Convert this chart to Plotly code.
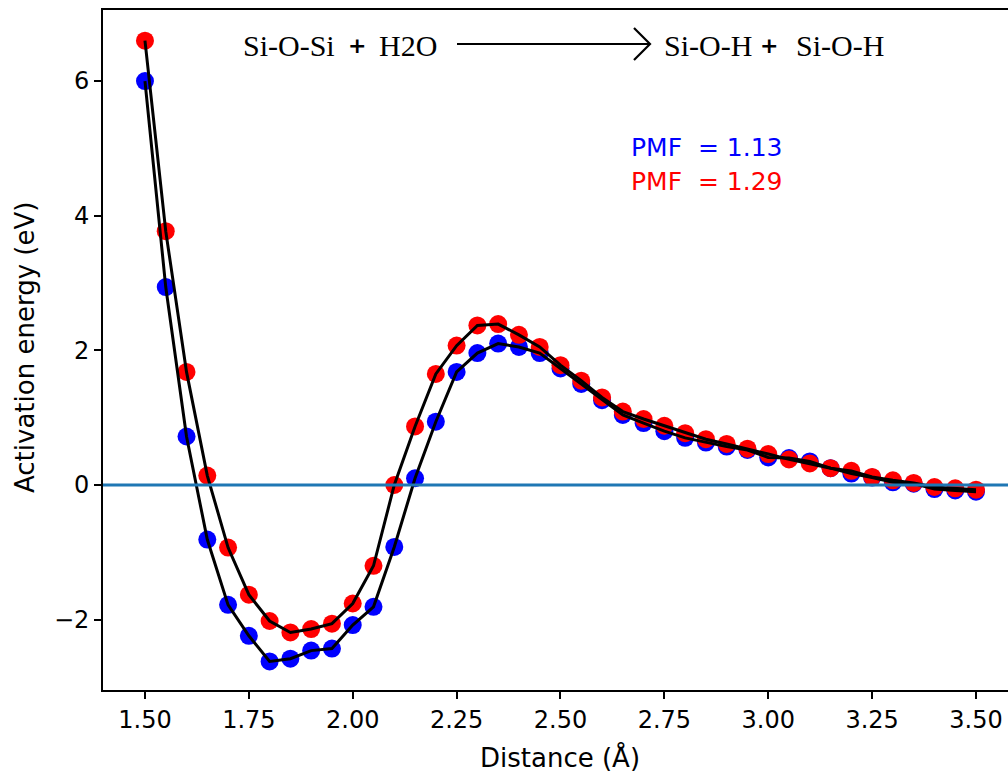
import plotly.graph_objects as go

distance = [1.50, 1.55, 1.60, 1.65, 1.70, 1.75, 1.80, 1.85, 1.90, 1.95,
            2.00, 2.05, 2.10, 2.15, 2.20, 2.25, 2.30, 2.35, 2.40, 2.45,
            2.50, 2.55, 2.60, 2.65, 2.70, 2.75, 2.80, 2.85, 2.90, 2.95,
            3.00, 3.05, 3.10, 3.15, 3.20, 3.25, 3.30, 3.35, 3.40, 3.45, 3.50]

energy_blue = [6.00, 2.94, 0.72, -0.81, -1.78, -2.24, -2.62, -2.58, -2.46, -2.43,
               -2.08, -1.81, -0.92, 0.10, 0.94, 1.68, 1.96, 2.10, 2.05, 1.96,
               1.73, 1.50, 1.26, 1.04, 0.92, 0.80, 0.70, 0.63, 0.57, 0.52,
               0.41, 0.40, 0.35, 0.25, 0.17, 0.11, 0.04, 0.02, -0.06, -0.08, -0.10]

energy_red = [6.60, 3.77, 1.68, 0.14, -0.93, -1.63, -2.02, -2.19, -2.14, -2.06,
              -1.76, -1.20, 0.00, 0.87, 1.65, 2.07, 2.37, 2.39, 2.23, 2.05,
              1.78, 1.55, 1.30, 1.09, 0.98, 0.88, 0.77, 0.68, 0.61, 0.54,
              0.46, 0.38, 0.32, 0.25, 0.21, 0.12, 0.07, 0.03, -0.03, -0.05, -0.07]

x_ticks = [1.50, 1.75, 2.00, 2.25, 2.50, 2.75, 3.00, 3.25, 3.50]
y_ticks = [-2, 0, 2, 4, 6]
y_tick_text = ["\u22122", "0", "2", "4", "6"]

pmf_blue_text = "PMF\u00a0\u00a0= 1.13"
pmf_red_text = "PMF\u00a0\u00a0= 1.29"

W, H = 1008, 773
L, R, T, B = 103, 0, 10, 83
PW, PH = W - L - R, H - T - B


def px(xp):
    return (xp - L) / PW


def py(yp):
    return (H - B - yp) / PH


fig = go.Figure()

fig.add_trace(go.Scatter(x=distance, y=energy_blue, mode="markers",
                         marker=dict(color="blue", size=18, line=dict(width=0)),
                         showlegend=False, cliponaxis=False))
fig.add_trace(go.Scatter(x=distance, y=energy_red, mode="markers",
                         marker=dict(color="red", size=18, line=dict(width=0)),
                         showlegend=False, cliponaxis=False))
fig.add_trace(go.Scatter(x=distance, y=energy_blue, mode="lines",
                         line=dict(color="black", width=3),
                         showlegend=False))
fig.add_trace(go.Scatter(x=distance, y=energy_red, mode="lines",
                         line=dict(color="black", width=3),
                         showlegend=False))

fig.add_hline(y=0, line=dict(color="#1f77b4", width=3))

axis_font = dict(family="DejaVu Sans", size=24, color="black")

fig.update_xaxes(range=[1.399, 3.577], tickvals=x_ticks,
                 ticktext=[f"{v:.2f}" for v in x_ticks],
                 showgrid=False, zeroline=False,
                 showline=True, linecolor="black", linewidth=1.6, mirror=True,
                 ticks="outside", ticklen=7, tickwidth=1.6, tickcolor="black",
                 tickfont=axis_font)
fig.update_yaxes(range=[-3.045, 7.055], tickvals=y_ticks, ticktext=y_tick_text,
                 showgrid=False, zeroline=False,
                 showline=True, linecolor="black", linewidth=1.6,
                 ticks="outside", ticklen=7, tickwidth=1.6, tickcolor="black",
                 tickfont=axis_font)

serif = "Liberation Serif"
title_y = py(45)
annotations = [
    dict(text="Si-O-Si", x=px(289), y=title_y, font=dict(family=serif, size=30)),
    dict(text="<b>+</b>", x=px(357), y=title_y, font=dict(family="DejaVu Sans", size=22)),
    dict(text="H2O", x=px(408), y=title_y, font=dict(family=serif, size=30)),
    dict(text="Si-O-H", x=px(708), y=title_y, font=dict(family=serif, size=30)),
    dict(text="<b>+</b>", x=px(769), y=title_y, font=dict(family="DejaVu Sans", size=22)),
    dict(text="Si-O-H", x=px(840), y=title_y, font=dict(family=serif, size=30)),
]
for a in annotations:
    a.update(xref="paper", yref="paper", xanchor="center", yanchor="middle",
             showarrow=False)
    a["font"]["color"] = "black"

annotations += [
    dict(text=pmf_blue_text, x=px(629), y=py(148), xref="paper", yref="paper",
         xanchor="left", yanchor="middle", showarrow=False,
         font=dict(family="DejaVu Sans", size=25, color="blue")),
    dict(text=pmf_red_text, x=px(629), y=py(181), xref="paper", yref="paper",
         xanchor="left", yanchor="middle", showarrow=False,
         font=dict(family="DejaVu Sans", size=25, color="red")),
    dict(text="Distance (\u00c5)", x=px(560), y=py(757), xref="paper", yref="paper",
         xanchor="center", yanchor="middle", showarrow=False,
         font=dict(family="DejaVu Sans", size=26, color="black")),
    dict(text="Activation energy (eV)", x=px(25), y=py(348), xref="paper", yref="paper",
         xanchor="center", yanchor="middle", showarrow=False, textangle=-90,
         font=dict(family="DejaVu Sans", size=26, color="black")),
]

# reaction arrow
arrow_path = (f"M {px(457)},{py(44)} L {px(650)},{py(44)} "
              f"M {px(634)},{py(28)} L {px(650)},{py(44)} L {px(634)},{py(60)}")
fig.add_shape(type="path", path=arrow_path, xref="paper", yref="paper",
              line=dict(color="black", width=2.2))

fig.update_layout(width=W, height=H,
                  margin=dict(l=L, r=R, t=T, b=B),
                  paper_bgcolor="white", plot_bgcolor="white",
                  annotations=annotations, showlegend=False)

fig.write_html("out.html")
